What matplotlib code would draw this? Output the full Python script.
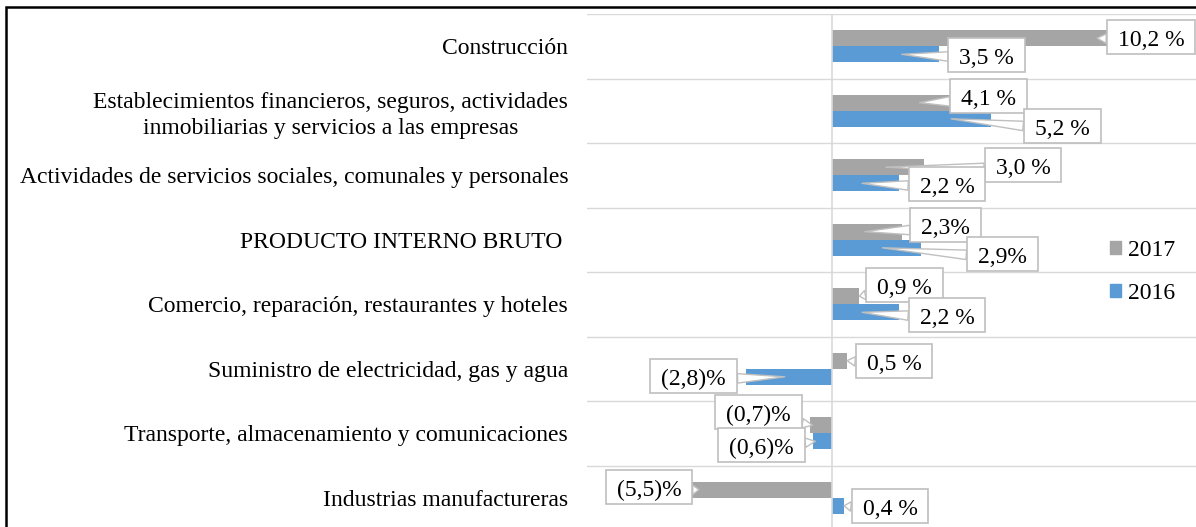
import matplotlib
matplotlib.use("Agg")
import matplotlib.pyplot as plt
from matplotlib.patches import Rectangle, Patch
from matplotlib.path import Path
import numpy as np

plt.rcParams['font.family'] = ['Liberation Serif', 'DejaVu Serif']

categories = [
    "Construcción",
    "Establecimientos financieros, seguros, actividades\ninmobiliarias y servicios a las empresas",
    "Actividades de servicios sociales, comunales y personales",
    "PRODUCTO INTERNO BRUTO ",
    "Comercio, reparación, restaurantes y hoteles",
    "Suministro de electricidad, gas y agua",
    "Transporte, almacenamiento y comunicaciones",
    "Industrias manufactureras",
]
v2017 = [10.2, 4.1, 3.0, 2.3, 0.9, 0.5, -0.7, -5.5]
v2016 = [3.5, 5.2, 2.2, 2.9, 2.2, -2.8, -0.6, 0.4]
labels2017 = ["10,2 %", "4,1 %", "3,0 %", "2,3%", "0,9 %", "0,5 %", "(0,7)%", "(5,5)%"]
labels2016 = ["3,5 %", "5,2 %", "2,2 %", "2,9%", "2,2 %", "(2,8)%", "(0,6)%", "0,4 %"]
series_names = ["2017", "2016"]

# callout layout: (pointer position as fraction of bar, text offset x px, text offset y px)
lay2017 = [(0.85, 54, -2), (0.70, 69, 3), (0.59, 137, -1), (0.47, 81, 3),
           (1.0, 45, 8), (1.0, 47, -4), (0.9, -54, 10), (0.79, -50, -1)]
lay2016 = [(0.654, 85, -4), (0.75, 111, -11), (0.45, 85, -4), (0.57, 120, -10),
           (0.45, 85, -6), (0.55, -91, -3), (0.9, -54, -7), (1.0, 46, -4)]

C2017 = '#A5A5A5'
C2016 = '#5B9BD5'
GRID = '#D9D9D9'
FS = 17

W, H = 1196, 527
fig = plt.figure(figsize=(W / 100, H / 100), dpi=100)
ax = fig.add_axes([587 / W, (527 - 530) / H, 612 / W, 516 / H])

n = len(categories)
y = np.arange(n)
bh = 0.25
ax.barh(y - bh / 2, v2017, height=bh, color=C2017, zorder=2, label=series_names[0])
ax.barh(y + bh / 2, v2016, height=bh, color=C2016, zorder=2, label=series_names[1])

ax.set_xlim(-8, 12)
ax.set_ylim(n - 0.5, -0.5)

for b in np.arange(-0.5, n + 0.5, 1.0):
    ax.axhline(b, color=GRID, lw=1.0, zorder=1)
ax.axvline(0, color=GRID, lw=1.2, zorder=3)

for s in ax.spines.values():
    s.set_visible(False)
ax.set_xticks([])
ax.set_yticks(y)
ax.set_yticklabels(categories, fontsize=FS)
ax.tick_params(axis='y', length=0, pad=13.5)
for t in ax.get_yticklabels():
    t.set_multialignment('center')
    t.set_linespacing(1.3)


def callout_box(x0, y0, width, height, mutation_size):
    px, pb, pt = 11.0, 3.0, 10.0
    x0 -= px
    y0 -= pb
    x1 = x0 + width + 2 * px
    y1 = y0 + height + pb + pt
    return Path([(x0, y0), (x1, y0), (x1, y1), (x0, y1), (x0, y0)],
                closed=True)


def callouts(vals, labs, lay, off):
    for i, (v, lab, (fr, dx, dy)) in enumerate(zip(vals, labs, lay)):
        ax.annotate(lab, xy=(v * fr, i + off), xycoords='data',
                    xytext=(dx, dy), textcoords='offset pixels',
                    ha='center', va='center', fontsize=FS, zorder=5,
                    bbox=dict(boxstyle=callout_box, fc='white', ec='#BFBFBF', lw=1.2),
                    arrowprops=dict(arrowstyle='wedge,tail_width=0.4,shrink_factor=0.5',
                                    fc='white', ec='#BFBFBF', lw=1.0,
                                    shrinkA=0, shrinkB=0))

callouts(v2017, labels2017, lay2017, -bh / 2)
callouts(v2016, labels2016, lay2016, bh / 2)

handles = [Patch(color=C2017), Patch(color=C2016)]
fig.legend(handles, series_names, loc='upper left',
           bbox_to_anchor=(1110 / W, 1 - 240 / H), frameon=False,
           fontsize=FS, handlelength=0.47, handleheight=0.47,
           handletextpad=0.3, labelspacing=0.93, borderpad=0,
           borderaxespad=0)

fig.add_artist(Rectangle((5.5 / W, -0.1), 1.2, 1.1 - 6.5 / H,
                         transform=fig.transFigure, fill=False,
                         ec='black', lw=1.8))

fig.savefig('out.png', dpi=100)
